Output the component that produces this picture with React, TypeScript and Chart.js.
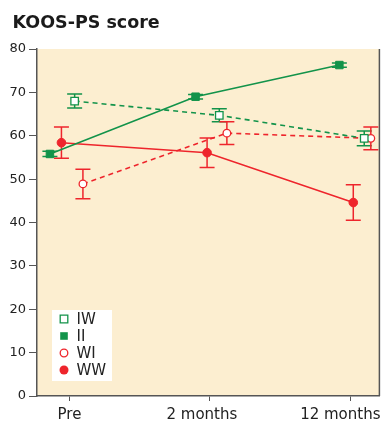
import React, { useEffect, useRef } from "react";
import { Chart, registerables } from "chart.js";

Chart.register(...registerables);

// ---- Data ----
const categories = ["Pre", "2 months", "12 months"];
const seriesNames = ["IW", "II", "WI", "WW"];

// x positions (category index units, with the small horizontal jitter of the original)
const iwX = [0.037, 1.067, 2.099];
const iiX = [-0.139, 0.898, 1.922];
const wiX = [0.096, 1.121, 2.146];
const wwX = [-0.057, 0.98, 2.021];

// mean scores
const iwValues = [68.0, 64.7, 59.4];
const iiValues = [55.8, 69.0, 76.3];
const wiValues = [48.9, 60.6, 59.4];
const wwValues = [58.4, 56.1, 44.6];

// error half-widths
const iwErrors = [1.6, 1.5, 1.7];
const iiErrors = [0.6, 0.5, 0.5];
const wiErrors = [3.4, 2.6, 2.6];
const wwErrors = [3.6, 3.4, 4.1];

const yTicksMin = 0;
const yTicksMax = 80;
const yTickStep = 10;
const titleText = "KOOS-PS score";

// ---- Styles ----
const GREEN = "#12934A";
const RED = "#EE252C";
const AXIS = "#555555";
const BG = "#FCEED0";
const TEXT = "#222222";
const FONT = "'DejaVu Sans', sans-serif";
const xLabelShift = [0, -8, -10];

const errorSets = [iwErrors, iiErrors, wiErrors, wwErrors];
const valueSets = [iwValues, iiValues, wiValues, wwValues];

const bgPlugin = {
  id: "bgPlugin",
  beforeDraw(chart: any) {
    const { ctx, chartArea: a } = chart;
    ctx.save();
    ctx.fillStyle = BG;
    ctx.fillRect(a.left, a.top, a.right - a.left, a.bottom - a.top);
    ctx.strokeStyle = AXIS;
    ctx.lineWidth = 1.5;
    ctx.beginPath();
    ctx.moveTo(a.right, a.top);
    ctx.lineTo(a.right, a.bottom);
    ctx.stroke();
    ctx.restore();
  },
};

const errorBarPlugin = {
  id: "errorBars",
  beforeDatasetsDraw(chart: any) {
    const { ctx } = chart;
    const ys = chart.scales.y;
    ctx.save();
    chart.data.datasets.forEach((ds: any, i: number) => {
      const meta = chart.getDatasetMeta(i);
      ctx.strokeStyle = ds.borderColor;
      ctx.lineWidth = 1.5;
      ctx.setLineDash([]);
      meta.data.forEach((el: any, j: number) => {
        const v = valueSets[i][j];
        const e = errorSets[i][j];
        const yt = ys.getPixelForValue(v + e);
        const yb = ys.getPixelForValue(v - e);
        const x = el.x;
        const cap = 7.5;
        ctx.beginPath();
        ctx.moveTo(x, yt);
        ctx.lineTo(x, yb);
        ctx.moveTo(x - cap, yt);
        ctx.lineTo(x + cap, yt);
        ctx.moveTo(x - cap, yb);
        ctx.lineTo(x + cap, yb);
        ctx.stroke();
      });
    });
    ctx.restore();
  },
};

const textPlugin = {
  id: "texts",
  afterDraw(chart: any) {
    const { ctx } = chart;
    const xs = chart.scales.x;
    const a = chart.chartArea;
    ctx.save();
    // title
    ctx.fillStyle = "#1a1a1a";
    ctx.font = `bold 17.5px ${FONT}`;
    ctx.textAlign = "left";
    ctx.textBaseline = "alphabetic";
    ctx.fillText(titleText, 12.5, 27.5);
    // x labels
    ctx.font = `15px ${FONT}`;
    ctx.fillStyle = TEXT;
    ctx.textAlign = "center";
    categories.forEach((c, i) => {
      const x = xs.getPixelForValue(i) + xLabelShift[i];
      ctx.fillText(c, x, a.bottom + 22.5);
    });
    // legend
    const lx = a.left + 15;
    const ly = a.bottom - 86;
    ctx.fillStyle = "#ffffff";
    ctx.fillRect(lx, ly, 60, 71);
    const rowH = 17;
    const styles = [
      { color: GREEN, shape: "rect", fill: false },
      { color: GREEN, shape: "rect", fill: true },
      { color: RED, shape: "circle", fill: false },
      { color: RED, shape: "circle", fill: true },
    ];
    seriesNames.forEach((name, i) => {
      const cy = ly + 9 + i * rowH;
      const cx = lx + 12;
      const st = styles[i];
      ctx.lineWidth = 1.3;
      ctx.strokeStyle = st.color;
      ctx.fillStyle = st.fill ? st.color : "#ffffff";
      ctx.beginPath();
      if (st.shape === "rect") {
        ctx.rect(cx - 3.8, cy - 3.8, 7.6, 7.6);
      } else {
        ctx.arc(cx, cy, st.fill ? 4.5 : 3.8, 0, Math.PI * 2);
      }
      ctx.fill();
      if (!st.fill) ctx.stroke();
      ctx.fillStyle = TEXT;
      ctx.font = `15px ${FONT}`;
      ctx.textAlign = "left";
      ctx.textBaseline = "alphabetic";
      ctx.fillText(name, lx + 24.5, cy + 5.3);
    });
    ctx.restore();
  },
};

function mk(xs: number[], ys: number[]) {
  return xs.map((x, i) => ({ x, y: ys[i] }));
}

export default function App() {
  const ref = useRef<HTMLCanvasElement>(null);
  useEffect(() => {
    document.body.style.margin = "0";
    const canvas = ref.current!;
    const chart = new Chart(canvas, {
      type: "line",
      data: {
        datasets: [
          {
            label: seriesNames[0],
            data: mk(iwX, iwValues),
            borderColor: GREEN,
            borderWidth: 1.6,
            borderDash: [5, 4],
            pointStyle: "rect",
            pointRadius: 5.3,
            pointBackgroundColor: "#ffffff",
            pointBorderColor: GREEN,
            pointBorderWidth: 1.3,
          },
          {
            label: seriesNames[1],
            data: mk(iiX, iiValues),
            borderColor: GREEN,
            borderWidth: 1.6,
            pointStyle: "rect",
            pointRadius: 5.3,
            pointBackgroundColor: GREEN,
            pointBorderColor: GREEN,
            pointBorderWidth: 1,
          },
          {
            label: seriesNames[2],
            data: mk(wiX, wiValues),
            borderColor: RED,
            borderWidth: 1.6,
            borderDash: [5, 4],
            pointStyle: "circle",
            pointRadius: 3.8,
            pointBackgroundColor: "#ffffff",
            pointBorderColor: RED,
            pointBorderWidth: 1.3,
          },
          {
            label: seriesNames[3],
            data: mk(wwX, wwValues),
            borderColor: RED,
            borderWidth: 1.6,
            pointStyle: "circle",
            pointRadius: 4.3,
            pointBackgroundColor: RED,
            pointBorderColor: RED,
            pointBorderWidth: 1,
          },
        ],
      },
      options: {
        animation: false,
        responsive: false,
        devicePixelRatio: 1,
        layout: { padding: { top: 49, right: 4, bottom: 0, left: 0 } },
        plugins: {
          legend: { display: false },
          tooltip: { enabled: false },
          title: { display: false },
        },
        scales: {
          x: {
            type: "linear",
            min: -0.231,
            max: 2.207,
            afterBuildTicks: (s: any) => {
              s.ticks = categories.map((_, i) => ({ value: i }));
            },
            afterFit: (s: any) => {
              s.height = 25;
              s.paddingLeft = 0;
              s.paddingRight = 0;
            },
            ticks: { display: false },
            grid: {
              drawOnChartArea: false,
              drawTicks: true,
              tickLength: 5,
              color: AXIS,
              lineWidth: 1,
            },
            border: { color: AXIS, width: 1.5 },
          },
          y: {
            min: yTicksMin,
            max: yTicksMax,
            afterFit: (s: any) => {
              s.width = 37;
              s.paddingTop = 0;
              s.paddingBottom = 0;
            },
            ticks: {
              stepSize: yTickStep,
              font: { family: FONT, size: 13 },
              color: TEXT,
              padding: 3,
            },
            grid: {
              drawOnChartArea: false,
              drawTicks: true,
              tickLength: 8,
              color: AXIS,
              lineWidth: 1,
            },
            border: { color: AXIS, width: 1.5 },
          },
        },
      },
      plugins: [bgPlugin, errorBarPlugin, textPlugin],
    } as any);
    return () => chart.destroy();
  }, []);
  return (
    <canvas
      ref={ref}
      width={386}
      height={421}
      style={{ display: "block", width: 386, height: 421 }}
    />
  );
}
